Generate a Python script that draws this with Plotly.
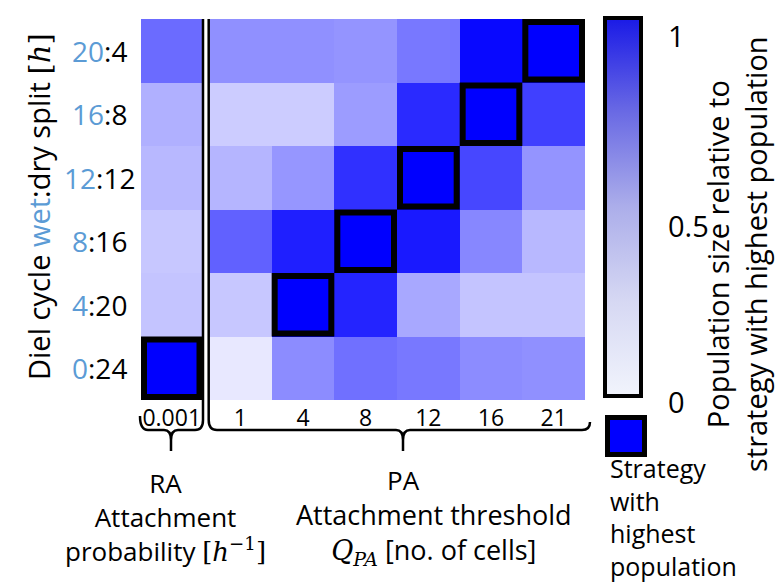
import plotly.graph_objects as go
import numpy as np

# ---------------- data ----------------
rows = ["0:24", "4:20", "8:16", "12:12", "16:8", "20:4"]          # bottom -> top
wet_hours = ["0", "4", "8", "12", "16", "20"]
dry_hours = ["24", "20", "16", "12", "8", "4"]
ra_cols = ["0.001"]
pa_cols = ["1", "4", "8", "12", "16", "21"]

ra_vals = [1.00, 0.23, 0.22, 0.28, 0.31, 0.58]                   # per row, bottom -> top
pa_vals = [
    [0.09, 0.45, 0.56, 0.53, 0.45, 0.435],   # 0:24
    [0.22, 1.00, 0.86, 0.34, 0.23, 0.23],    # 4:20
    [0.62, 0.88, 1.00, 0.90, 0.47, 0.28],    # 8:16
    [0.29, 0.41, 0.81, 1.00, 0.72, 0.42],    # 12:12
    [0.20, 0.20, 0.39, 0.835, 1.00, 0.75],   # 16:8
    [0.435, 0.435, 0.42, 0.53, 0.97, 1.00],  # 20:4
]
cbar_ticks = [1, 0.5, 0]
cbar_ticktext = ["1", "0.5", "0"]

# ---------------- geometry helpers (pixels -> paper) ----------------
W, H = 784, 584
def px(x):
    return x / W
def py(y):
    return 1 - y / H
def path(cmds):
    out = []
    for c in cmds:
        if isinstance(c, str):
            out.append(c)
        else:
            out.append(f"{px(c[0]):.5f},{py(c[1]):.5f}")
    return " ".join(out)

FONT = "Open Sans"
MATH = "font-family:'DejaVu Serif'"
BLUE_TXT = "#5b9bd5"
heat_scale = [[0, "#ffffff"], [1, "#0000ff"]]
bar_scale = [[0, "#f1f4fc"], [0.25, "#d6d8f3"], [0.5, "#acaeea"], [0.75, "#6a6ae4"], [1, "#1a1ae6"]]

fig = go.Figure()
fig.add_trace(go.Heatmap(x=ra_cols, y=rows, z=[[v] for v in ra_vals],
                         coloraxis="coloraxis", xaxis="x", yaxis="y"))
fig.add_trace(go.Heatmap(x=pa_cols, y=rows, z=pa_vals,
                         coloraxis="coloraxis", xaxis="x2", yaxis="y"))
# colorbar carrier (invisible marker)
fig.add_trace(go.Scatter(x=[pa_cols[0]], y=[rows[0]], xaxis="x2", yaxis="y", mode="markers",
                         hoverinfo="skip", showlegend=False,
                         marker=dict(size=1, opacity=0, color=[0], cmin=0, cmax=1,
                                     colorscale=bar_scale, showscale=True,
                                     colorbar=dict(thickness=36, thicknessmode="pixels",
                                                   len=378, lenmode="pixels",
                                                   x=px(597), xanchor="left", xpad=0,
                                                   y=py(199), yanchor="middle", ypad=0,
                                                   outlinewidth=4, outlinecolor="black",
                                                   tickvals=cbar_ticks, ticks="",
                                                   showticklabels=False))))

ydom = [py(392), py(11)]
fig.update_layout(
    width=W, height=H, margin=dict(l=0, r=0, t=0, b=0),
    paper_bgcolor="white", plot_bgcolor="white",
    font=dict(family=FONT, color="black"),
    coloraxis=dict(colorscale=heat_scale, cmin=0, cmax=1, showscale=False),
    xaxis=dict(domain=[px(133), px(194.5)], type="category", anchor="y", showgrid=False,
               zeroline=False, ticks="", tickfont=dict(size=23, color="black"),
               ticklabelstandoff=2, fixedrange=True),
    xaxis2=dict(domain=[px(201), px(577)], type="category", anchor="y", showgrid=False,
                zeroline=False, ticks="", tickfont=dict(size=23, color="black"),
                ticklabelstandoff=2, fixedrange=True),
    yaxis=dict(domain=ydom, type="category", showticklabels=False, showgrid=False,
               zeroline=False, ticks="", fixedrange=True),
    showlegend=False,
)

shapes = []
# highlight strategy with highest population in each row
ra_w, pa_w, row_h = 61.5, 376 / 6, 381 / 6
for r, name in enumerate(rows):
    combined = [ra_vals[r]] + list(pa_vals[r])
    k = int(np.argmax(combined))
    if k == 0:
        xr, xi, cw = "x", 0, ra_w
    else:
        xr, xi, cw = "x2", k - 1, pa_w
    ix, iy = 3 / cw, 3 / row_h
    shapes.append(dict(type="rect", xref=xr, yref="y",
                       x0=xi - 0.5 + ix, x1=xi + 0.5 - ix, y0=r - 0.5 + iy, y1=r + 0.5 - iy,
                       line=dict(color="black", width=6), fillcolor="rgba(0,0,0,0)", layer="above"))

# RA brace + separator line
shapes.append(dict(type="path", xref="paper", yref="paper", line=dict(color="black", width=2.5),
                   path=path(["M", (132, 408), "Q", (132, 422), (140, 422), "L", (156, 422),
                              "Q", (163, 422), (163, 432), "L", (163, 443),
                              "M", (163, 432), "Q", (163, 422), (170, 422), "L", (187, 422),
                              "Q", (195, 422), (195, 412), "L", (195, 11)])))
# PA brace + separator line
shapes.append(dict(type="path", xref="paper", yref="paper", line=dict(color="black", width=2.5),
                   path=path(["M", (200.7, 11), "L", (200.7, 412), "Q", (200.7, 422), (209, 422),
                              "L", (388, 422), "Q", (395, 422), (395, 432), "L", (395, 443),
                              "M", (395, 432), "Q", (395, 422), (402, 422), "L", (574, 422),
                              "Q", (582, 422), (582, 414)])))
# legend square
shapes.append(dict(type="rect", xref="paper", yref="paper",
                   x0=px(599.5), x1=px(636.5), y0=py(446.5), y1=py(409.5),
                   line=dict(color="black", width=5), fillcolor="#0000ff"))
fig.update_layout(shapes=shapes)

ann = []
# y tick labels
for r, (w, d) in enumerate(zip(wet_hours, dry_hours)):
    ann.append(dict(xref="paper", yref="y", x=px(91), y=rows[r], xanchor="center", yanchor="middle",
                    text=f"<span style='color:{BLUE_TXT}'>{w}</span>:{d}", showarrow=False,
                    font=dict(size=28, color="black")))
# y title
ann.append(dict(xref="paper", yref="paper", x=px(31), y=py(199), textangle=-90, showarrow=False,
                xanchor="center", yanchor="middle",
                text=f"Diel cycle <span style='color:{BLUE_TXT}'>wet</span>:dry split "
                     f"<span style=\"{MATH}\">[<i>h</i>]</span>",
                font=dict(size=29, color="black")))

def txt(x, y, t, size=28, xa="center", align="center"):
    ann.append(dict(xref="paper", yref="paper", x=px(x), y=py(y), text=t, showarrow=False,
                    xanchor=xa, yanchor="middle", align=align,
                    font=dict(size=size, color="black")))

# bottom group labels
txt(157, 509, f"RA<br>Attachment<br>probability <span style=\"{MATH}\">[<i>h</i><sup>−1</sup>]</span>",
    size=26)
txt(395, 472, "PA", size=26)
txt(426, 525, f"Attachment threshold<br><span style=\"{MATH}\"><i>Q</i><sub><i>PA</i></sub></span>"
              " [no. of cells]", size=27)
# colorbar tick labels
for t, yy in zip(cbar_ticktext, [28, 217, 393]):
    txt(658, yy, t, size=29, xa="left", align="left")
# colorbar title
ann.append(dict(xref="paper", yref="paper", x=px(728), y=py(246), textangle=-90, showarrow=False,
                xanchor="center", yanchor="middle",
                text="Population size relative to<br>strategy with highest population",
                font=dict(size=29, color="black")))
# legend text
txt(600, 509, "Strategy<br>with<br>highest<br>population", size=25, xa="left", align="left")
fig.update_layout(annotations=ann)

fig.write_html("out.html")
